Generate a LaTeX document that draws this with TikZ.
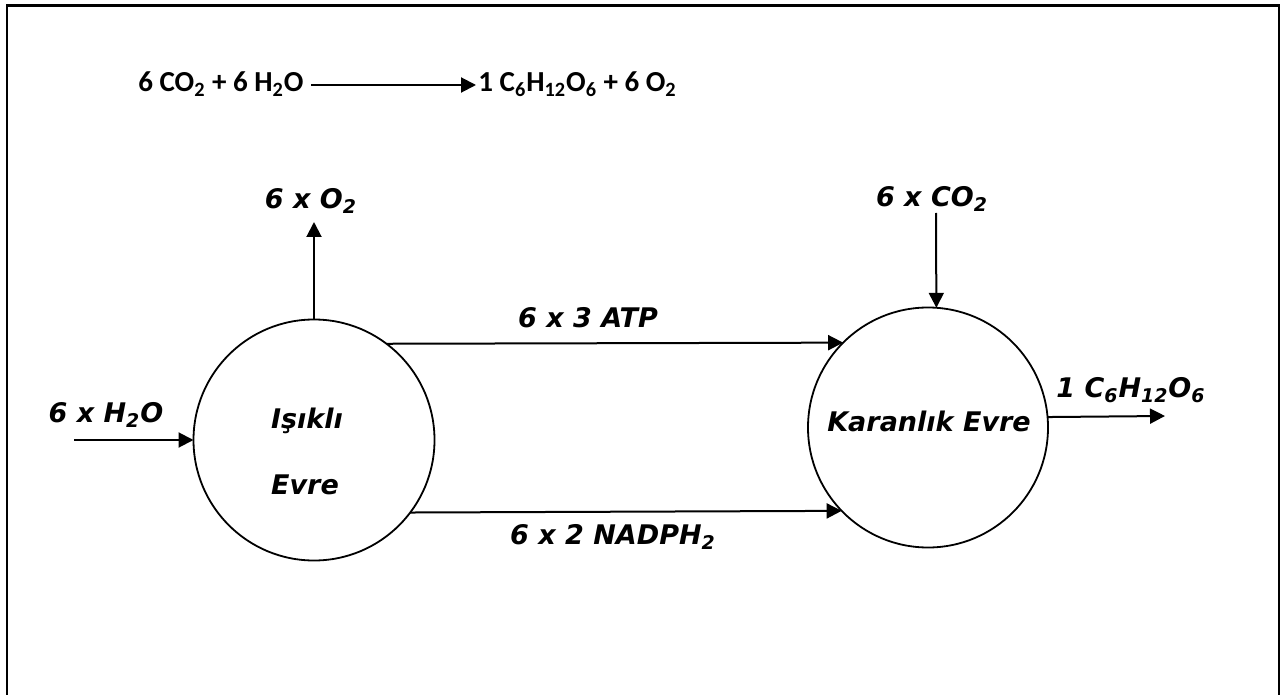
\documentclass[tikz,border=0pt]{standalone}
\usepackage{fontspec}
\usetikzlibrary{arrows.meta}
\newfontfamily\labelfont{DejaVu Sans Bold Oblique}
\newfontfamily\eqfont{Carlito}

\begin{document}
\begin{tikzpicture}[x=0.5pt, y=-0.5pt,
  flow/.style={line width=1pt, -{Triangle[length=7.5pt, width=7.5pt]}},
  phase/.style={draw, circle, line width=0.9pt, inner sep=0pt, outer sep=0pt},
  lbl/.style={font=\labelfont\fontsize{13.5}{16}\selectfont, inner sep=0pt},
  eq/.style={font=\eqfont\fontsize{14.5}{17}\selectfont\bfseries, inner sep=0pt}]
  \useasboundingbox (0,0) rectangle (1285,695);
  % Frame, open at the bottom
  \draw[line width=1.2pt] (7,695) -- (7,5.5) -- (1279,5.5) -- (1279,695);

  % Overall equation
  \node[eq, anchor=base east] (reac) at (304,92) {6 CO\textsubscript{2} + 6 H\textsubscript{2}O};
  \node[eq, anchor=base west] (prod) at (478,92) {1 C\textsubscript{6}H\textsubscript{12}O\textsubscript{6} + 6 O\textsubscript{2}};
  \draw[flow] ([shift={(7,-7)}]reac.base east) -- ([shift={(-2,-7)}]prod.base west);

  % The two phases
  \node[phase, minimum size=120.5pt] (light) at (314,440) {};
  \node[lbl] (lightA) at (307,421) {Işıklı};
  \node[lbl] (lightB) at (305,485) {Evre};
  \node[phase, minimum size=120pt] (dark) at (928,427.5) {};
  \node[lbl] (darkA) at (929,421) {Karanlık Evre};

  % Inputs and outputs
  \coordinate (h2oin) at (74,440);
  \coordinate (o2out) at (314,222);
  \coordinate (co2in) at (936,213);
  \coordinate (glcout) at (1165,416);
  \node[lbl] (h2olbl) at (106,415) {6 x H\textsubscript{2}O};
  \node[lbl] (o2lbl) at (311,201) {6 x O\textsubscript{2}};
  \node[lbl] (co2lbl) at (932,199) {6 x CO\textsubscript{2}};
  \node[lbl] (glclbl) at (1131,390) {1 C\textsubscript{6}H\textsubscript{12}O\textsubscript{6}};
  \draw[flow] (h2oin) -- (light.west);
  \draw[flow] (light.north) -- (o2out);
  \draw[flow] (co2in) -- (dark.86.2);
  \draw[flow] (dark.5.5) -- (glcout);

  % Light phase products to the dark phase
  \draw[flow] (light.53.6) -- (dark.135.2);
  \draw[flow] (light.323.3) -- (dark.224.8);
  \node[lbl] (atplbl) at (588,318) {6 x 3 ATP};
  \node[lbl] (nadphlbl) at (613,537) {6 x 2 NADPH\textsubscript{2}};
\end{tikzpicture}
\end{document}
